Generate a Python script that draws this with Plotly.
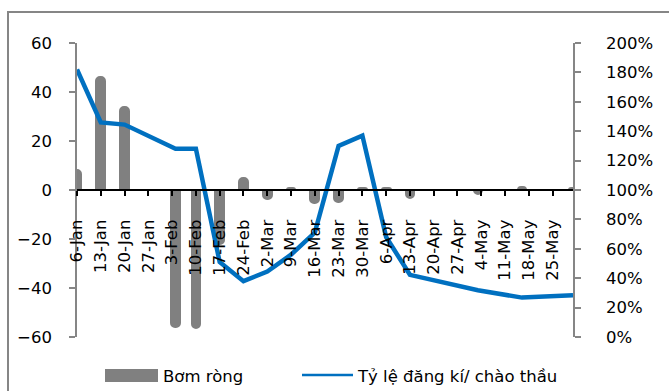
import plotly.graph_objects as go

# ---- data ----
dates = ["2020-01-06", "2020-01-13", "2020-01-20", "2020-02-04", "2020-02-10",
         "2020-02-17", "2020-02-24", "2020-03-02", "2020-03-09", "2020-03-16",
         "2020-03-23", "2020-03-30", "2020-04-06", "2020-04-13", "2020-05-03",
         "2020-05-16", "2020-05-31"]
bom_rong = [8, 46, 34, -56, -56.5, -22, 5, -3.8, 1, -5.2, -4.8, 1, 1, -3.4, -1.5, 1.2, 0.8]
ty_le = [182, 146, 144.5, 128, 128, 51, 38, 44.5, 56, 71, 130, 137, 68, 42.3, 31.8, 26.8, 28.4]

x_start = "2020-01-06"
x_end = "2020-05-31"
left_ticks = [-60, -40, -20, 0, 20, 40, 60]
right_ticks = [0, 20, 40, 60, 80, 100, 120, 140, 160, 180, 200]
right_labels = [f"{v}%" for v in right_ticks]

bar_name = "Bơm ròng"
line_name = "Tỷ lệ đăng kí/ chào thầu"

FONT = "DejaVu Sans"
FS = 16.5
GRAY = "#808080"
BLUE = "#0070C0"
AX = "#868686"

W, H = 669, 391
L, R, T, B = 77, 96, 43, 54
PW, PH = W - L - R, H - T - B


def px(xp):
    return (xp - L) / PW


def py(yp):
    return (H - B - yp) / PH


fig = go.Figure()
fig.add_trace(go.Bar(
    x=dates, y=bom_rong, name=bar_name, yaxis="y",
    width=2.56 * 86400000,
    marker=dict(color=GRAY, line=dict(color=GRAY, width=2), cornerradius=4),
    showlegend=False,
))
fig.add_trace(go.Scatter(
    x=dates, y=ty_le, name=line_name, yaxis="y2", mode="lines",
    line=dict(color=BLUE, width=4.5),
    showlegend=False,
))

fig.update_layout(
    width=W, height=H, autosize=False,
    margin=dict(l=L, r=R, t=T, b=B, pad=0),
    paper_bgcolor="white", plot_bgcolor="white",
    font=dict(family=FONT, size=FS, color="black"),
    bargap=0,
    xaxis=dict(
        type="date", range=[x_start, x_end],
        tick0=x_start, dtick=7 * 86400000, tickformat="%-d-%b",
        tickangle=-90, ticks="outside", ticklen=5, tickwidth=1.5, tickcolor="black",
        showline=True, linecolor="black", linewidth=2,
        showgrid=False, zeroline=False,
        anchor="free", position=0.5,
        ticklabelstandoff=17,
        tickfont=dict(family=FONT, size=FS, color="black"),
    ),
    yaxis=dict(
        range=[-60, 60], tickvals=left_ticks,
        ticks="outside", ticklen=6, tickwidth=1.5, tickcolor=AX,
        showline=True, linecolor=AX, linewidth=1.5,
        showgrid=False, zeroline=False,
        ticklabelstandoff=14,
        tickfont=dict(family=FONT, size=FS, color="black"),
    ),
    yaxis2=dict(
        range=[0, 200], tickmode="array", tickvals=right_ticks, ticktext=right_labels,
        overlaying="y", side="right", anchor="x",
        ticks="outside", ticklen=6, tickwidth=1.5, tickcolor=AX,
        showline=True, linecolor=AX, linewidth=1.5,
        showgrid=False, zeroline=False,
        ticklabelstandoff=22,
        tickfont=dict(family=FONT, size=FS, color="black"),
    ),
    shapes=[
        # outer chart border (only left and top edges visible in the frame)
        dict(type="rect", xref="paper", yref="paper",
             x0=px(8), x1=px(700), y0=py(420), y1=py(12),
             line=dict(color=AX, width=2), fillcolor="rgba(0,0,0,0)", layer="below"),
        # legend swatches
        dict(type="rect", xref="paper", yref="paper",
             x0=px(105), x1=px(158), y0=py(382), y1=py(369),
             line=dict(width=0), fillcolor=GRAY),
        dict(type="line", xref="paper", yref="paper",
             x0=px(302), x1=px(353), y0=py(375), y1=py(375),
             line=dict(color=BLUE, width=2.5)),
    ],
    annotations=[
        dict(text=bar_name, xref="paper", yref="paper", x=px(161), y=py(376),
             xanchor="left", yanchor="middle", showarrow=False,
             font=dict(family=FONT, size=FS, color="black")),
        dict(text=line_name, xref="paper", yref="paper", x=px(355), y=py(376),
             xanchor="left", yanchor="middle", showarrow=False,
             font=dict(family=FONT, size=FS, color="black")),
    ],
)

fig.write_html("out.html")
